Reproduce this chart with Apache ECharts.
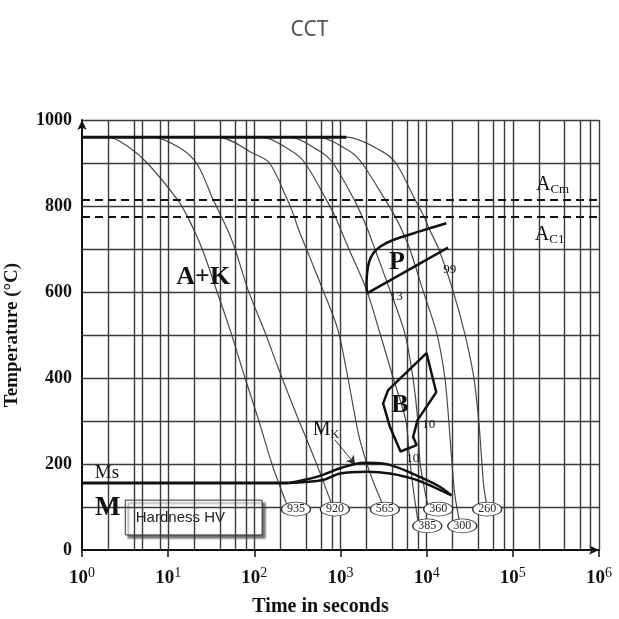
<!DOCTYPE html>
<html><head><meta charset="utf-8">
<script src="https://cdn.jsdelivr.net/npm/echarts@6/dist/echarts.min.js"></script>
<style>html,body{margin:0;padding:0;background:#fff}#c{width:619px;height:619px}</style>
</head><body><div id="c"></div>
<script>
// ---- data ----
const xTickExponents = [0, 1, 2, 3, 4, 5, 6];
const yTickValues = [0, 200, 400, 600, 800, 1000];
const gridTimes = [2,4,5,8,10,20,40,60,80,100,200,400,600,800,1000,2000,4000,6000,8000,10000,20000,40000,60000,80000,100000,200000,400000,600000,800000,1000000];
const gridTemps = [100,200,300,400,500,600,700,800,900,1000];
const austenitizeTemp = 960;
const austenitizeEnd = 1170;
const acmTemp = 815;
const ac1Temp = 775;

const curve935 = [[1,960],[2.02,960],[3.44,938],[5.71,900],[12.7,816],[16.6,777],[24.8,700],[37,600],[52.3,512],[78,400],[113,300],[160,200],[239,105]];
const curve920 = [[1,960],[6.53,960],[14.9,930],[22.5,892],[33,816],[41,777],[49,744],[59.7,700],[84.5,605],[129.5,512],[193,419],[330,300],[408,256],[577,180],[795,105]];
const curve565 = [[1,960],[38,960],[98,922],[150,900],[240,816],[288,777],[328,744],[442,680],[625,605],[933,512],[1218,400],[1508,300],[1678,256],[2191,180],[3099,105]];
const curve385 = [[1,960],[123,960],[259,930],[387,900],[678,816],[861,777],[1011,744],[1251,700],[2006,605],[2869,504],[4049,403],[5725,302],[6201,233],[6902,150],[7885,70]];
const curve360 = [[1,960],[259,960],[547,930],[816,900],[1430,816],[1770,777],[2078,744],[2504,700],[3736,605],[5576,504],[6902,403],[7885,302],[8318,209],[9256,150],[10296,105]];
const curve300 = [[1,960],[547,960],[1218,930],[1770,900],[3268,816],[4269,777],[5147,744],[6372,700],[9013,605],[13093,504],[16209,403],[18039,302],[19542,209],[21170,130],[24180,63]];
const curve260 = [[1,960],[1186,960],[2862,930],[4386,900],[7279,816],[9256,777],[10863,744],[13809,700],[20067,605],[27637,504],[35128,403],[40153,302],[43505,209],[45868,150],[49716,105]];

const msBase = [[1,156],[250,156]];
const msUpper = [[250,156],[528,170],[985,190],[1469,200],[2006,203],[3735,198],[8318,170],[14190,147],[19380,127]];
const msLower = [[250,156],[630,163],[985,178],[2006,182],[3735,178],[7620,163],[19380,127]];
const mkArrow = [[861,256],[1469,200]];

const pStart = [[16950,760],[8318,741],[4083,721],[2900,706],[2400,690],[2150,670],[2040,645],[2006,620],[2030,597]];
const pFinish = [[2030,597],[17700,703]];
const bRegion = [[9950,458],[12920,367],[7830,302],[6960,263],[7650,244],[4970,229],[3735,287],[3125,341],[3570,372],[9950,458]];

const hvValues = [935, 920, 565, 360, 260, 385, 300];
const hvTimes  = [304, 861, 3270, 13620, 50400, 10160, 25900];
const hvTemps  = [95, 95, 95, 95, 95, 56, 56];

// ---- chart ----
const serif = 'Liberation Serif, DejaVu Serif, serif';
const ink = '#111111';
const chart = echarts.init(document.getElementById('c'));

function lineSeries(data, width, color, z, smooth) {
  return { type: 'line', data: data, showSymbol: false, symbol: 'none', smooth: smooth || 0,
    lineStyle: { width: width, color: color }, z: z, silent: true, animation: false };
}

const subRich = (big, small) => ({
  a: { fontSize: big, fontFamily: serif, color: ink, lineHeight: big + 2 },
  b: { fontSize: small, fontFamily: serif, color: ink, verticalAlign: 'bottom', lineHeight: small }
});

const labelItems = [
  { value: [25.5, 635], label: { formatter: 'A+K', fontSize: 26, fontWeight: 'bold' } },
  { value: [4510, 670], label: { formatter: 'P', fontSize: 26, fontWeight: 'bold' } },
  { value: [4880, 336], label: { formatter: 'B', fontSize: 26, fontWeight: 'bold' } },
  { value: [1.95, 178], label: { formatter: 'Ms', fontSize: 19 } },
  { value: [1.99, 98], label: { formatter: 'M', fontSize: 27, fontWeight: 'bold' } },
  { value: [678, 279], label: { formatter: '{a|M}{b|K}', rich: subRich(20, 12) } },
  { value: [289000, 849], label: { formatter: '{a|A}{b|Cm}', rich: subRich(20, 13) } },
  { value: [267000, 733], label: { formatter: '{a|A}{b|C1}', rich: subRich(20, 13) } },
  { value: [4440, 590], label: { formatter: '13', fontSize: 13 } },
  { value: [18500, 651], label: { formatter: '99', fontSize: 13 } },
  { value: [10600, 291], label: { formatter: '10', fontSize: 13 } },
  { value: [6900, 212], label: { formatter: '10', fontSize: 13 } }
];

const curves = [curve935, curve920, curve565, curve385, curve360, curve300, curve260];

const series = [
  { type: 'line', data: [], z: 1, silent: true, animation: false,
    markLine: { silent: true, symbol: ['none','none'], animation: false, label: { show: false },
      lineStyle: { color: '#3a3a3a', width: 1.4, type: 'solid' },
      data: gridTimes.map(t => ({ xAxis: t })).concat(gridTemps.map(v => ({ yAxis: v }))) } },
  { type: 'line', data: [], z: 2, silent: true, animation: false,
    markArea: { silent: true, animation: false, label: { show: false },
      itemStyle: { color: '#ffffff' },
      data: [
        [{ coord: [120000, 912] }, { coord: [717000, 693] }],
        [{ coord: [1.06, 237] }, { coord: [4.15, 135] }]
      ] } },
  { type: 'line', data: [], z: 3, silent: true, animation: false,
    markLine: { silent: true, symbol: ['none','none'], animation: false, label: { show: false },
      lineStyle: { color: '#111', width: 2.2, type: [8, 5] },
      data: [{ yAxis: acmTemp }, { yAxis: ac1Temp }] } },
  lineSeries([[1, austenitizeTemp], [austenitizeEnd, austenitizeTemp]], 3, '#111', 5)
];
curves.forEach(c => series.push(lineSeries(c, 1.2, '#4a4a4a', 4, 0.3)));
series.push(lineSeries(msBase, 3, '#111', 6));
series.push(lineSeries(msUpper, 2.5, '#111', 6, 0.35));
series.push(lineSeries(msLower, 2.5, '#111', 6, 0.35));
series.push(lineSeries(pStart, 2.5, '#111', 6, 0.3));
series.push(lineSeries(pFinish, 2.5, '#111', 6));
series.push(lineSeries(bRegion, 2.5, '#111', 6));
series.push({ type: 'line', data: [], z: 6, silent: true, animation: false,
  markLine: { silent: true, symbol: ['none','arrow'], symbolSize: 8, animation: false, label: { show: false },
    lineStyle: { color: '#333', width: 1, type: 'solid' },
    data: [[{ coord: mkArrow[0] }, { coord: mkArrow[1] }]] } });
series.push({ type: 'line', data: [], z: 7, silent: true, animation: false,
  markArea: { silent: true, animation: false,
    itemStyle: { color: '#ffffff', borderColor: '#333', borderWidth: 1, shadowColor: 'rgba(0,0,0,0.55)', shadowOffsetX: 3, shadowOffsetY: 3, shadowBlur: 2 },
    label: { show: true, position: 'insideLeft', formatter: 'Hardness HV', fontFamily: 'Liberation Sans, Arial, sans-serif', fontSize: 15, color: '#222', padding: [0, 0, 0, 6] },
    data: [[{ coord: [3.18, 116] }, { coord: [123, 35] }]] } });
series.push({ type: 'scatter', z: 8, silent: true, animation: false,
  symbol: 'circle', symbolSize: [29, 14],
  itemStyle: { color: '#fff', borderColor: '#333', borderWidth: 1, opacity: 1 },
  label: { show: true, position: 'inside', fontFamily: serif, fontSize: 12, color: '#222', formatter: p => String(p.data[2]) },
  data: hvValues.map((v, i) => [hvTimes[i], hvTemps[i], v]) });
series.push({ type: 'scatter', z: 9, silent: true, animation: false, symbolSize: 0,
  itemStyle: { opacity: 1 },
  label: { show: true, position: 'inside', fontFamily: serif, color: ink, opacity: 1 },
  data: labelItems });

chart.setOption({
  animation: false,
  backgroundColor: '#fff',
  title: { text: 'CCT', left: 'center', top: 15, textStyle: { fontSize: 21, fontWeight: 'normal', color: '#555', fontFamily: 'Noto Sans, Roboto, sans-serif' } },
  grid: { left: 82, top: 120, width: 517, height: 430, containLabel: false, outerBoundsMode: 'none' },
  xAxis: {
    type: 'log', logBase: 10, min: 1, max: 1000000,
    name: 'Time in seconds', nameLocation: 'middle', nameGap: 47,
    nameTextStyle: { fontFamily: serif, fontWeight: 'bold', fontSize: 20, color: ink, padding: [0, 40, 0, 0] },
    axisLine: { show: true, lineStyle: { color: '#111', width: 2 }, symbol: ['none', 'arrow'], symbolSize: [7, 10] },
    axisTick: { show: true, length: 7, lineStyle: { color: '#111', width: 1.5 } },
    splitLine: { show: false },
    axisLabel: { margin: 16,
      formatter: v => { const e = Math.round(Math.log10(v)); return xTickExponents.includes(e) ? '{b|10}{s|' + e + '}' : ''; },
      rich: { b: { fontFamily: serif, fontWeight: 'bold', fontSize: 19, color: ink, lineHeight: 24 },
              s: { fontFamily: serif, fontSize: 14, color: ink, verticalAlign: 'top', lineHeight: 14 } } }
  },
  yAxis: {
    type: 'value', min: 0, max: 1000, interval: 200,
    name: 'Temperature (°C)', nameLocation: 'middle', nameGap: 60, nameRotate: 90,
    nameTextStyle: { fontFamily: serif, fontWeight: 'bold', fontSize: 19, color: ink },
    axisLine: { show: true, lineStyle: { color: '#111', width: 2 }, symbol: ['none', 'arrow'], symbolSize: [7, 10] },
    axisTick: { show: false },
    splitLine: { show: false },
    axisLabel: { margin: 10, fontFamily: serif, fontWeight: 'bold', fontSize: 18, color: ink,
      formatter: v => yTickValues.includes(v) ? String(v) : '' }
  },
  series: series
});
</script></body></html>
